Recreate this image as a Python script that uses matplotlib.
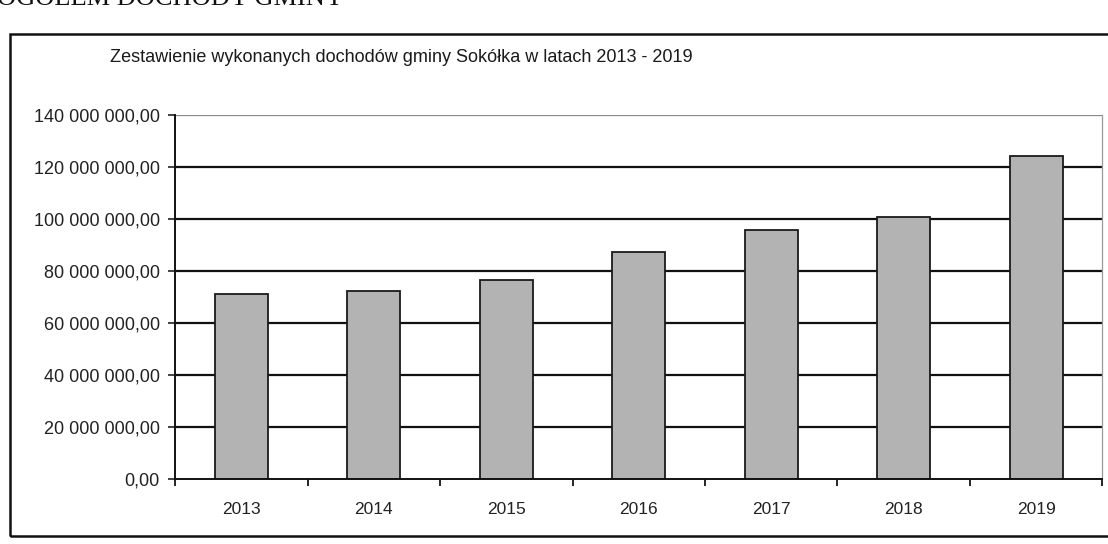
import matplotlib.pyplot as plt
from matplotlib.patches import Rectangle
from matplotlib.ticker import FuncFormatter

lata = ['2013', '2014', '2015', '2016', '2017', '2018', '2019']
dochody = [71.0e6, 72.5e6, 76.5e6, 87.5e6, 96.0e6, 101.0e6, 124.5e6]
y_ticks = [0, 20e6, 40e6, 60e6, 80e6, 100e6, 120e6, 140e6]
tytul = 'Zestawienie wykonanych dochodów gminy Sokółka w latach 2013 - 2019'

plt.rcParams['font.family'] = ['Liberation Sans', 'DejaVu Sans']

fig = plt.figure(figsize=(11.08, 5.44), dpi=100)
ax = fig.add_axes([0.158, 0.12, 0.837, 0.668])

# siatka pozioma - grube czarne linie
for v in y_ticks[1:-1]:
    ax.axhline(v, color='#111111', lw=1.6, zorder=1)
ax.axhline(y_ticks[-1], color='#888888', lw=0.9, zorder=1)

x = range(len(lata))
ax.bar(x, dochody, width=0.40, color='#b3b3b3', edgecolor='#1a1a1a', lw=1.3, zorder=2)

ax.set_xlim(-0.5, len(lata) - 0.5)
ax.set_ylim(0, 140e6)
ax.set_yticks(y_ticks)
ax.yaxis.set_major_formatter(FuncFormatter(
    lambda v, p: '{:,.2f}'.format(v).replace(',', ' ').replace('.', ',')))
ax.set_xticks(list(x))
ax.set_xticklabels(lata)
ax.set_xticks([i + 0.5 for i in range(-1, len(lata))], minor=True)
ax.tick_params(axis='x', which='major', length=0, pad=17, labelsize=12.5, colors='#222222')
ax.tick_params(axis='x', which='minor', length=5, width=1.2, direction='out')
ax.tick_params(axis='y', length=5, width=1.2, direction='out', pad=6, labelsize=13,
               colors='#222222')

for s in ['left', 'bottom']:
    ax.spines[s].set_linewidth(1.4)
    ax.spines[s].set_color('#111111')
ax.spines['top'].set_visible(False)
ax.spines['right'].set_color('#999999')
ax.spines['right'].set_linewidth(0.9)

# tytuł wykresu
fig.text(0.362, 0.895, tytul, ha='center', va='center', fontsize=13, color='#1a1a1a')

# ramka wokół wykresu
fig.patches.append(Rectangle((0.009, 0.015), 1.1, 0.922, transform=fig.transFigure,
                             fill=False, ec='#111111', lw=1.8))

# ucięty nagłówek strony
fig.text(-0.003, 0.99, 'OGÓŁEM DOCHODY GMINY', ha='left', va='baseline', fontsize=19,
         family=['Liberation Serif', 'DejaVu Serif'], color='#111111')

fig.savefig('out.png', dpi=100)
